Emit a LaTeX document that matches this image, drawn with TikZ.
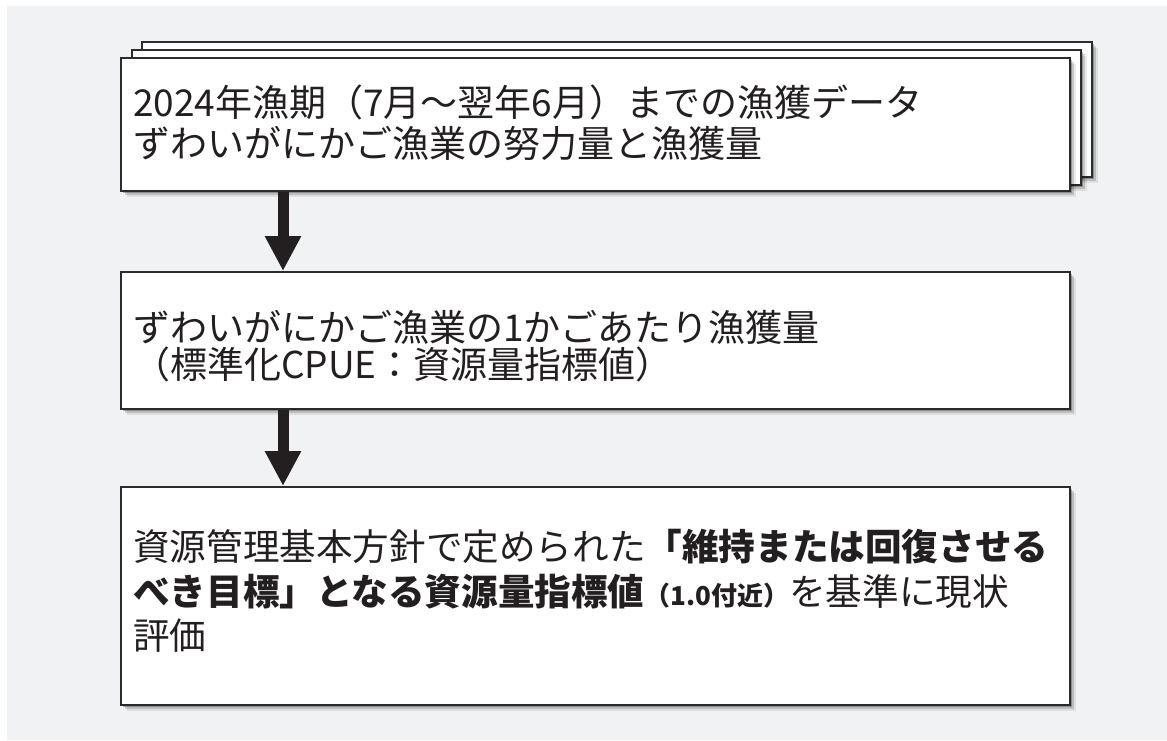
\documentclass[tikz,border=0pt]{standalone}
\usepackage{fontspec}
\setmainfont{Noto Sans CJK JP}
\usetikzlibrary{arrows.meta,shadows}
\definecolor{bg}{HTML}{F1F2F3}
\definecolor{ink}{HTML}{231F20}
\definecolor{edge}{HTML}{2B2B2B}
\begin{document}
\begin{tikzpicture}[x=1pt,y=-1pt,
  softshadow/.style={
    drop shadow={shadow xshift=2pt,shadow yshift=-2pt,opacity=0.25,fill=black},
    drop shadow={shadow xshift=4pt,shadow yshift=-4pt,opacity=0.15,fill=black},
    drop shadow={shadow xshift=6pt,shadow yshift=-6pt,opacity=0.08,fill=black}},
  box/.style={draw=edge,line width=1.8pt,fill=white,softshadow,anchor=north west,inner sep=0pt,minimum width=949pt},
  txt/.style={anchor=base west,inner sep=0pt,text=ink,font=\fontsize{37}{44}\selectfont},
  txtc/.style={txt,font=\fontsize{36.6}{44}\selectfont},
  arr/.style={draw=ink,line width=11pt,-{Triangle[width=34pt,length=35pt]}}]
\useasboundingbox (0,0) rectangle (1167,740);
\fill[bg] (7,6) rectangle (1167,740);
% stacked data sheets
\node[box,minimum width=950pt,minimum height=135pt] (s3) at (141,41) {};
\node[box,minimum height=135pt] (s2) at (131,49) {};
\node[box,minimum height=133pt] (b1) at (120,57) {};
\node[box,minimum height=137pt] (b2) at (120,271) {};
\node[box,minimum height=218pt] (b3) at (120,486) {};
% texts
\node[txt] (t11) at (133,116) {2024年漁期（7月～翌年6月）までの漁獲データ};
\node[txt] (t12) at (133,157) {ずわいがにかご漁業の努力量と漁獲量};
\node[txt] (t21) at (133,341) {ずわいがにかご漁業の1かごあたり漁獲量};
\node[txt] (t22) at (133,378) {（標準化CPUE：資源量指標値）};
\node[txtc] (t31) at (133,560) {資源管理基本方針で定められた{\bfseries 「維持または回復させる}};
\node[txtc] (t32) at (133,605) {{\bfseries べき目標」となる資源量指標値}{\bfseries\fontsize{26}{30}\selectfont （1.0付近）}を基準に現状};
\node[txtc] (t33) at (133,649) {評価};
% arrows
\coordinate (ax) at (283,0);
\draw[arr] (b1.south -| ax) -- (b2.north -| ax);
\draw[arr] (b2.south -| ax) -- (b3.north -| ax);
\end{tikzpicture}
\end{document}
